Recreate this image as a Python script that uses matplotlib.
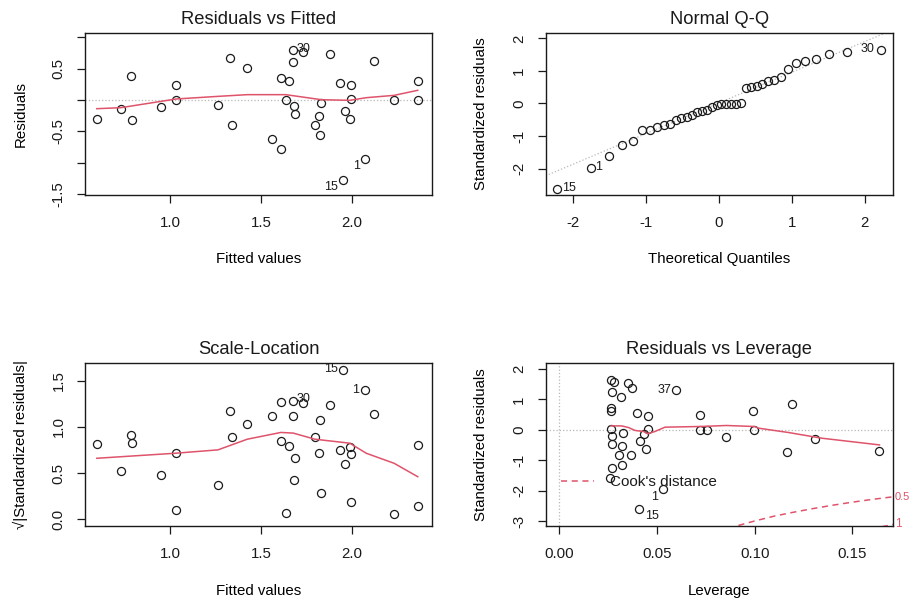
import matplotlib
matplotlib.use("Agg")
from matplotlib import pyplot as plt
from matplotlib.lines import Line2D

# --- Residuals vs Fitted ---
fitted = [0.597, 0.729, 0.784, 0.793, 0.951, 1.033, 1.033, 1.264, 1.331, 1.342,
          1.425, 1.56, 1.61, 1.612, 1.637, 1.652, 1.674, 1.678, 1.681, 1.689,
          1.729, 1.797, 1.82, 1.826, 1.833, 1.881, 1.938, 1.952, 1.962, 1.989,
          1.996, 1.996, 2.073, 2.123, 2.233, 2.363, 2.366]
residuals = [-0.298, -0.138, 0.383, -0.324, -0.112, 0.234, -0.005, -0.08, 0.66, -0.399,
             0.511, -0.617, 0.351, -0.777, 0.0, 0.303, 0.793, 0.606, -0.096, -0.218,
             0.766, -0.394, -0.255, -0.559, -0.048, 0.734, 0.271, -1.266, -0.181, -0.298,
             0.234, 0.011, -0.936, 0.622, 0.0, 0.298, 0.0]
rf_smooth_x = [0.597, 0.729, 0.951, 1.033, 1.264, 1.425, 1.637, 1.833, 1.989, 2.08, 2.233, 2.363]
rf_smooth_y = [-0.138, -0.122, -0.021, 0.016, 0.058, 0.085, 0.085, 0.005, -0.005, 0.037, 0.074, 0.154]
rf_ids = ["30", "15", "1"]
rf_id_x = [1.733, 1.886, 2.024]
rf_id_y = [0.808, -1.377, -1.042]

# --- Normal Q-Q ---
theoretical = [-2.22, -1.757, -1.508, -1.328, -1.183, -1.059, -0.950, -0.851, -0.760, -0.674,
               -0.593, -0.516, -0.443, -0.371, -0.301, -0.233, -0.166, -0.099, -0.033, 0.033,
               0.099, 0.166, 0.233, 0.301, 0.371, 0.443, 0.516, 0.593, 0.674, 0.760,
               0.851, 0.950, 1.059, 1.183, 1.328, 1.508, 1.757, 2.22]
std_sorted = [-2.63, -1.97, -1.60, -1.27, -1.15, -0.81, -0.81, -0.71, -0.66, -0.63,
              -0.52, -0.45, -0.40, -0.35, -0.27, -0.23, -0.19, -0.11, -0.04, -0.01,
              -0.01, -0.01, -0.01, 0.01, 0.47, 0.50, 0.54, 0.61, 0.68, 0.73,
              0.81, 1.06, 1.24, 1.31, 1.37, 1.53, 1.57, 1.65]
qq_intercept = 0.02
qq_slope = 0.94
qq_ids = ["15", "1", "30"]
qq_id_x = [-2.06, -1.648, 2.037]
qq_id_y = [-2.585, -1.96, 1.68]

# --- Scale-Location ---
sl_fitted = [0.597, 0.729, 0.784, 0.793, 0.951, 1.033, 1.033, 1.264, 1.331, 1.342,
             1.425, 1.56, 1.61, 1.612, 1.637, 1.652, 1.674, 1.678, 1.689, 1.681,
             1.729, 1.797, 1.82, 1.826, 1.833, 1.881, 1.938, 1.952, 1.962, 1.989,
             1.996, 1.996, 2.073, 2.123, 2.233, 2.363, 2.366]
sl_values = [0.813, 0.528, 0.914, 0.831, 0.481, 0.716, 0.101, 0.369, 1.175, 0.896,
             1.034, 1.12, 1.265, 0.853, 0.072, 0.795, 1.283, 1.12, 0.669, 0.423,
             1.258, 0.896, 0.716, 1.07, 0.282, 1.24, 0.752, 1.615, 0.596, 0.788,
             0.705, 0.192, 1.395, 1.142, 0.058, 0.802, 0.148]
sl_smooth_x = [0.597, 1.033, 1.264, 1.425, 1.61, 1.678, 1.797, 1.989, 2.08, 2.233, 2.363]
sl_smooth_y = [0.661, 0.716, 0.752, 0.867, 0.94, 0.933, 0.867, 0.824, 0.715, 0.607, 0.462]
sl_ids = ["15", "1", "30"]
sl_id_x = [1.888, 2.022, 1.736]
sl_id_y = [1.63, 1.402, 1.30]

# --- Residuals vs Leverage ---
leverage = [0.0266, 0.0283, 0.0269, 0.0315, 0.0355, 0.0375, 0.0597, 0.0266, 0.0266, 0.0399,
            0.0453, 0.0721, 0.099, 0.119, 0.0266, 0.0273, 0.0326, 0.0453, 0.0433, 0.0721,
            0.0758, 0.0995, 0.0269, 0.032, 0.0416, 0.0307, 0.0368, 0.0443, 0.0856, 0.1306,
            0.1164, 0.1638, 0.0269, 0.032, 0.026, 0.0534, 0.0407]
lev_resid = [1.65, 1.575, 1.245, 1.07, 1.54, 1.376, 1.30, 0.716, 0.63, 0.55,
             0.47, 0.50, 0.63, 0.85, 0.02, -0.2, -0.11, 0.02, -0.14, 0.0,
             0.0, 0.0, -0.46, -0.53, -0.36, -0.83, -0.83, -0.63, -0.24, -0.30,
             -0.72, -0.68, -1.27, -1.16, -1.6, -1.96, -2.62]
lev_smooth_x = [0.0266, 0.032, 0.0355, 0.0389, 0.0433, 0.0453, 0.049, 0.0542, 0.0721,
                0.0856, 0.0999, 0.102, 0.1173, 0.1343, 0.1638]
lev_smooth_y = [0.13, 0.13, 0.077, -0.02, -0.055, -0.13, -0.055, 0.088, 0.11,
                0.143, 0.11, 0.055, -0.088, -0.275, -0.496]
cook05_x = [0.0917, 0.100, 0.110, 0.120, 0.130, 0.140, 0.150, 0.160, 0.1706, 0.18]
cook05_y = [-3.147, -3.0, -2.84, -2.71, -2.59, -2.48, -2.38, -2.29, -2.205, -2.14]
cook1_x = [0.165, 0.1706, 0.18]
cook1_y = [-3.19, -3.118, -3.03]
lev_ids = ["37", "1", "15"]
lev_id_x = [0.0539, 0.0491, 0.0474]
lev_id_y = [1.32, -2.20, -2.84]

RED = "#DF536B"
GREY = "#b8b8b8"
INK = "#1a1a1a"

plt.rcParams.update(
    {
        "font.family": ["Liberation Sans", "DejaVu Sans"],
        "font.size": 10.5,
        "axes.linewidth": 1.0,
        "axes.edgecolor": INK,
        "xtick.color": INK,
        "ytick.color": INK,
        "text.color": INK,
    }
)


def points(ax, x, y):
    ax.plot(x, y, linestyle="none", marker="o", markersize=5.8,
            markerfacecolor="none", markeredgecolor=INK, markeredgewidth=0.9)


def ids(ax, names, xs, ys):
    for name, x, y in zip(names, xs, ys):
        ax.text(x, y, name, fontsize=9, ha="center", va="center", color=INK)


def style(ax, title, xlabel, ylabel, xticks, yticks, xlabels=None, ylabels=None):
    ax.set_xticks(xticks, xlabels if xlabels is not None else [str(t) for t in xticks])
    ax.set_yticks(yticks, ylabels if ylabels is not None else [str(t) for t in yticks])
    ax.tick_params(direction="out", length=6, width=0.9, labelsize=10.8)
    ax.tick_params(axis="x", pad=9)
    ax.tick_params(axis="y", labelrotation=90, pad=8)
    for lab in ax.get_yticklabels():
        lab.set_va("center")
    ax.text(0.5, 1.083, title, transform=ax.transAxes, ha="center", va="center",
            fontsize=13.2)
    ax.set_xlabel(xlabel, fontsize=10.8, va="center")
    ax.set_ylabel(ylabel, fontsize=10.8, va="center")
    ax.xaxis.set_label_coords(0.5, -0.395)
    ax.yaxis.set_label_coords(-0.186, 0.5)


fig = plt.figure(figsize=(9.11, 6.02), dpi=100)
ax1 = fig.add_axes([0.0933, 0.676, 0.381, 0.269])
ax2 = fig.add_axes([0.599, 0.676, 0.381, 0.269])
ax3 = fig.add_axes([0.0933, 0.126, 0.381, 0.271])
ax4 = fig.add_axes([0.599, 0.126, 0.381, 0.271])

# Residuals vs Fitted
ax1.axhline(0, color=GREY, linestyle=":", linewidth=0.9)
points(ax1, fitted, residuals)
ax1.plot(rf_smooth_x, rf_smooth_y, color=RED, linewidth=1.1)
ids(ax1, rf_ids, rf_id_x, rf_id_y)
ax1.set_xlim(0.532, 2.442)
ax1.set_ylim(-1.51, 1.063)
style(ax1, "Residuals vs Fitted", "Fitted values", "Residuals",
      [1.0, 1.5, 2.0], [-1.5, -1.0, -0.5, 0.0, 0.5, 1.0],
      ylabels=["-1.5", "", "-0.5", "", "0.5", ""])

# Normal Q-Q
ax2.axline((0, qq_intercept), slope=qq_slope, color=GREY, linestyle=":", linewidth=0.9)
points(ax2, theoretical, std_sorted)
ids(ax2, qq_ids, qq_id_x, qq_id_y)
ax2.set_xlim(-2.38, 2.385)
ax2.set_ylim(-2.81, 2.16)
style(ax2, "Normal Q-Q", "Theoretical Quantiles", "Standardized residuals",
      [-2, -1, 0, 1, 2], [-2, -1, 0, 1, 2])

# Scale-Location
points(ax3, sl_fitted, sl_values)
ax3.plot(sl_smooth_x, sl_smooth_y, color=RED, linewidth=1.1)
ids(ax3, sl_ids, sl_id_x, sl_id_y)
ax3.set_xlim(0.532, 2.442)
ax3.set_ylim(-0.072, 1.69)
style(ax3, "Scale-Location", "Fitted values", "√|Standardized residuals|",
      [1.0, 1.5, 2.0], [0.0, 0.5, 1.0, 1.5])

# Residuals vs Leverage
ax4.axhline(0, color=GREY, linestyle=":", linewidth=0.9)
ax4.axvline(0, color=GREY, linestyle=":", linewidth=0.9)
points(ax4, leverage, lev_resid)
ax4.plot(lev_smooth_x, lev_smooth_y, color=RED, linewidth=1.1)
ax4.plot(cook05_x, cook05_y, color=RED, linestyle=(0, (4, 3)), linewidth=1.1)
ax4.plot(cook1_x, cook1_y, color=RED, linestyle=(0, (4, 3)), linewidth=1.1)
ids(ax4, lev_ids, lev_id_x, lev_id_y)
ax4.set_xlim(-0.0068, 0.1706)
ax4.set_ylim(-3.17, 2.2)
ax4.text(1.004, -2.2, "0.5", color=RED, fontsize=8, va="center", ha="left",
         transform=ax4.get_yaxis_transform())
ax4.text(1.006, -3.1, "1", color=RED, fontsize=8.5, va="center", ha="left",
         transform=ax4.get_yaxis_transform())
style(ax4, "Residuals vs Leverage", "Leverage", "Standardized residuals",
      [0.0, 0.05, 0.10, 0.15], [-3, -2, -1, 0, 1, 2],
      xlabels=["0.00", "0.05", "0.10", "0.15"])
handle = Line2D([], [], color=RED, linestyle=(0, (4, 3)), linewidth=1.1)
ax4.legend([handle], ["Cook's distance"], loc="center left", bbox_to_anchor=(0.043, 0.27),
           frameon=False, fontsize=11, handlelength=2.2, handletextpad=1.0, borderpad=0,
           borderaxespad=0)

fig.savefig("out.png", dpi=100)
